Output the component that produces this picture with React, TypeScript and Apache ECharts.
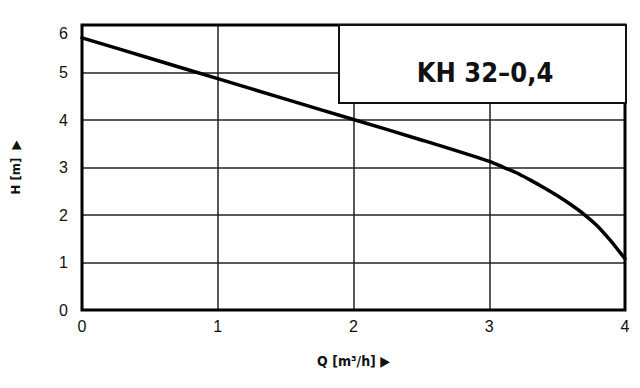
import React, { useEffect, useRef } from "react";
import * as echarts from "echarts";

const flowQ = [0, 0.5, 1, 1.5, 2, 2.5, 3, 3.1, 3.2, 3.3, 3.4, 3.5, 3.6, 3.7, 3.8, 3.9, 3.95, 4];
const headH = [5.73, 5.3, 4.87, 4.44, 4.01, 3.58, 3.13, 3.01, 2.89, 2.74, 2.58, 2.41, 2.22, 2.01, 1.76, 1.44, 1.26, 1.08];
const xTicks = [0, 1, 2, 3, 4];
const yTicks = [0, 1, 2, 3, 4, 5, 6];
const modelName = "KH 32–0,4";
const xAxisName = "Q [m³/h] ▶";
const yAxisName = "H [m]  ▶";

export default function App() {
  const ref = useRef<HTMLDivElement>(null);
  useEffect(() => {
    if (!ref.current) return;
    const chart = echarts.init(ref.current, null, { renderer: "svg" });
    const labelFont = "'Liberation Sans', Arial, sans-serif";
    const condensed = "'DejaVu Sans Condensed', 'Liberation Sans Narrow', sans-serif";
    chart.setOption({
      animation: false,
      backgroundColor: "#fff",
      grid: {
        left: 82,
        right: 15,
        top: 25,
        bottom: 78,
        show: true,
        borderColor: "#000",
        borderWidth: 3,
        z: 3,
      },
      xAxis: {
        type: "value",
        min: xTicks[0],
        max: xTicks[xTicks.length - 1],
        interval: 1,
        axisLine: { show: false },
        axisTick: { show: false },
        splitLine: { show: true, lineStyle: { color: "#222", width: 1.5 } },
        axisLabel: { color: "#111", fontSize: 16, fontFamily: labelFont, margin: 8 },
        name: xAxisName,
        nameLocation: "middle",
        nameGap: 44,
        nameTextStyle: { color: "#111", fontSize: 14, fontWeight: "bold", fontFamily: condensed },
      },
      yAxis: {
        type: "value",
        min: yTicks[0],
        max: yTicks[yTicks.length - 1],
        interval: 1,
        axisLine: { show: false },
        axisTick: { show: false },
        splitLine: { show: true, lineStyle: { color: "#222", width: 1.5 } },
        axisLabel: {
          color: "#111",
          fontSize: 16,
          fontFamily: labelFont,
          margin: 14,
          verticalAlignMaxLabel: "top",
        },
        name: yAxisName,
        nameLocation: "middle",
        nameGap: 60,
        nameRotate: 90,
        nameTextStyle: { color: "#111", fontSize: 13, fontWeight: "bold", fontFamily: condensed },
      },
      series: [
        {
          type: "line",
          data: flowQ.map((q, i) => [q, headH[i]]),
          smooth: 0.3,
          showSymbol: false,
          lineStyle: { color: "#000", width: 3.5, cap: "round", join: "round" },
          z: 5,
        },
      ],
      graphic: [
        {
          type: "rect",
          z: 10,
          shape: { x: 339, y: 25, width: 287, height: 78 },
          style: { fill: "#fff", stroke: "#111", lineWidth: 2 },
        },
        {
          type: "text",
          z: 11,
          x: 485,
          y: 72,
          style: {
            text: modelName,
            fill: "#111",
            font: "bold 27px " + condensed,
            textAlign: "center",
            textVerticalAlign: "middle",
          },
        },
      ],
    });
    return () => chart.dispose();
  }, []);
  return <div ref={ref} style={{ width: 640, height: 388, position: "absolute", left: 0, top: 0 }} />;
}
